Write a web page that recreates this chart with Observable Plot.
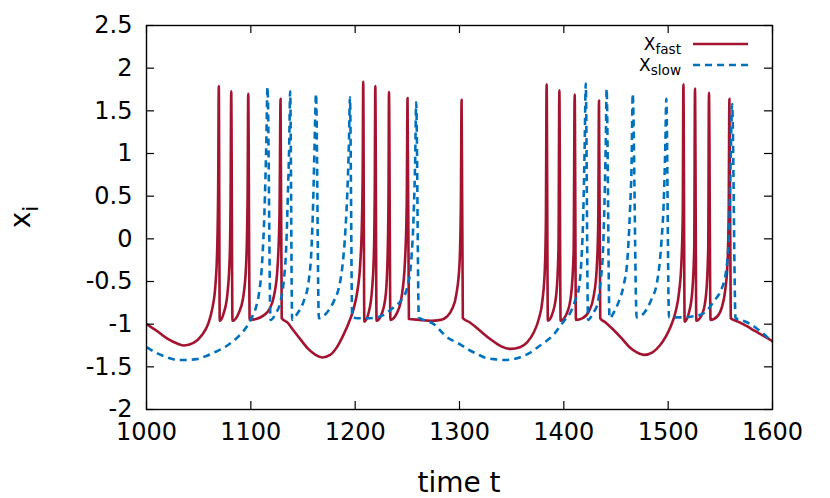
<!DOCTYPE html>
<html><head><meta charset="utf-8">
<script src="https://cdn.jsdelivr.net/npm/d3@7"></script>
<script src="https://cdn.jsdelivr.net/npm/@observablehq/plot@0.6"></script>
<style>body{margin:0;background:#fff}svg{display:block}</style>
</head><body><div id="chart"></div>
<script>
// x_fast series: time and value
const fastT = [1000,1010,1020,1030,1036,1045,1053,1059,1063,1066,1067.8,1068.7,1069.3,1070.2,1074,1077.5,1079.8,1080.6,1081.2,1082.4,1088,1092.5,1095.5,1096.9,1097.5,1098.9,1105,1112,1118,1122.5,1125.5,1127.5,1128.5,1129.6,1135,1140,1147,1155,1162,1168.5,1176,1183,1189,1194,1198.5,1202,1204.8,1206.5,1207.3,1207.7,1208.8,1213,1216,1218,1218.8,1219.3,1220.5,1226,1229.5,1231.3,1232,1232.4,1233.8,1240,1244.5,1247.8,1249.4,1250.2,1251.5,1262,1272,1282,1288,1293,1297,1300,1301.3,1302,1303.2,1310,1320,1330,1340,1349,1358,1365,1371,1376,1379.5,1381.8,1382.8,1383.5,1384.7,1389.5,1393,1394.9,1395.7,1396.9,1403,1407,1409.4,1410.4,1411.6,1418,1424,1428.5,1431.5,1433,1433.7,1434.9,1440,1447,1455,1463,1470,1477,1485,1492,1498,1503,1507,1510.5,1512.8,1514,1514.6,1515.8,1520,1523,1525,1525.7,1527,1533,1536.5,1538.4,1539.1,1540.6,1547,1551.5,1554.5,1556.8,1558,1558.7,1560,1567,1575,1583,1592,1600];
const fastX = [-1.00,-1.08,-1.17,-1.23,-1.25,-1.22,-1.13,-1.00,-0.82,-0.55,-0.1,0.6,1.79,-0.96,-0.87,-0.65,-0.2,0.5,1.73,-0.96,-0.88,-0.70,-0.3,0.5,1.70,-0.95,-0.94,-0.90,-0.82,-0.65,-0.35,0.3,1.64,-0.93,-0.98,-1.06,-1.17,-1.29,-1.36,-1.39,-1.36,-1.26,-1.12,-0.98,-0.82,-0.62,-0.3,0.2,0.9,1.84,-0.97,-0.86,-0.62,-0.15,0.6,1.79,-0.96,-0.86,-0.63,-0.1,0.6,1.72,-0.95,-0.87,-0.68,-0.25,0.4,1.65,-0.94,-0.95,-0.96,-0.95,-0.91,-0.82,-0.65,-0.3,0.4,1.63,-0.93,-0.98,-1.08,-1.18,-1.26,-1.29,-1.27,-1.21,-1.10,-0.94,-0.72,-0.35,0.2,1.81,-0.96,-0.86,-0.62,-0.1,1.74,-0.96,-0.87,-0.65,-0.15,1.69,-0.95,-0.93,-0.85,-0.68,-0.35,0.2,1.62,-0.93,-0.98,-1.06,-1.16,-1.27,-1.33,-1.36,-1.33,-1.25,-1.14,-1.01,-0.86,-0.62,-0.25,0.3,1.81,-0.97,-0.86,-0.63,-0.1,1.76,-0.96,-0.87,-0.63,-0.1,1.71,-0.95,-0.91,-0.80,-0.62,-0.3,0.3,1.64,-0.93,-0.97,-1.02,-1.08,-1.14,-1.20];

// x_slow series: time and value
const slowT = [1000,1010,1020,1030,1038,1048,1058,1067,1075,1083,1090,1096,1101,1105,1107.7,1110.9,1113.1,1114.8,1116,1118.9,1123.7,1128.5,1131.6,1133.9,1135.5,1136.8,1137.7,1139.6,1144.3,1150.7,1155.5,1158.2,1159.8,1161.1,1162.5,1165.2,1173.2,1179.6,1184.4,1187.6,1190.8,1192.4,1194,1195,1197.2,1202,1212,1221,1230,1237.2,1243.5,1249.9,1253.7,1256.2,1257.5,1258.5,1261,1268,1275.4,1282,1288.7,1295,1301,1309,1317,1324,1333,1342.5,1352,1360,1367,1375,1383,1390.5,1396,1401,1406.5,1411,1414.5,1416.8,1418.7,1420,1421,1423.2,1428,1432.1,1435.2,1437.8,1439.3,1440.3,1441,1443.8,1448,1452.8,1457.6,1460.8,1463.4,1465,1466,1469.8,1476.8,1483.2,1489.6,1493.4,1496,1497.3,1498.2,1500.8,1508,1515,1523,1531,1538,1543.9,1550.3,1555.1,1558.3,1559.9,1561.3,1564.6,1572,1579,1587,1594,1600];
const slowX = [-1.27,-1.34,-1.39,-1.42,-1.42,-1.41,-1.37,-1.32,-1.27,-1.20,-1.12,-1.03,-0.92,-0.80,-0.65,-0.26,0.33,1.11,1.78,-0.95,-0.88,-0.73,-0.49,-0.10,0.52,1.11,1.73,-0.95,-0.88,-0.73,-0.49,-0.10,0.45,1.11,1.70,-0.93,-0.86,-0.73,-0.57,-0.34,0.13,0.52,1.11,1.66,-0.92,-0.93,-0.93,-0.92,-0.87,-0.80,-0.73,-0.57,-0.26,0.33,0.91,1.60,-0.92,-0.96,-1.00,-1.08,-1.16,-1.20,-1.24,-1.30,-1.35,-1.39,-1.41,-1.42,-1.41,-1.38,-1.34,-1.27,-1.20,-1.12,-1.03,-0.95,-0.86,-0.72,-0.57,-0.26,0.33,1.11,1.82,-0.95,-0.87,-0.77,-0.50,-0.06,0.6,1.2,1.76,-0.93,-0.86,-0.73,-0.53,-0.26,0.33,0.91,1.70,-0.92,-0.87,-0.73,-0.49,-0.06,0.52,1.11,1.64,-0.92,-0.92,-0.92,-0.91,-0.89,-0.83,-0.73,-0.61,-0.41,0.05,0.91,1.58,-0.93,-0.96,-1.00,-1.07,-1.14,-1.21];

const xTicks = [1000,1100,1200,1300,1400,1500,1600];
const yTicks = [-2,-1.5,-1,-0.5,0,0.5,1,1.5,2,2.5];
const yTickLabels = ["-2","-1.5","-1","-0.5","0","0.5","1","1.5","2","2.5"];
const seriesNames = ["fast","slow"];
const seriesColors = ["#a2142f","#0072bd"];

const fast = fastT.map((t,i)=>({t, v: fastX[i]}));
const slow = slowT.map((t,i)=>({t, v: slowX[i]}));

const W = 830, H = 498, mL = 146, mR = 58, mT = 25, mB = 89;
const fw = W - mL - mR, fh = H - mT - mB, tk = 8;

const svg = Plot.plot({
  width: W, height: H,
  marginLeft: mL, marginRight: mR, marginTop: mT, marginBottom: mB,
  style: {fontFamily: "DejaVu Sans", fontSize: "24px", background: "white", color: "black", overflow: "visible"},
  x: {domain: [1000, 1600]},
  y: {domain: [-2, 2.5]},
  marks: [
    Plot.line(fast, {x: "t", y: "v", curve: "monotone-x", stroke: seriesColors[0], strokeWidth: 2.6, strokeLinecap: "butt"}),
    Plot.line(slow, {x: "t", y: "v", curve: "monotone-x", stroke: seriesColors[1], strokeWidth: 2.6, strokeDasharray: "7,5", strokeLinecap: "butt"}),
    Plot.ruleX(xTicks, {insetTop: fh - tk, stroke: "black", strokeWidth: 1.2}),
    Plot.ruleX(xTicks, {insetBottom: fh - tk, stroke: "black", strokeWidth: 1.2}),
    Plot.ruleY(yTicks, {insetRight: fw - tk, stroke: "black", strokeWidth: 1.2}),
    Plot.ruleY(yTicks, {insetLeft: fw - tk, stroke: "black", strokeWidth: 1.2}),
    Plot.frame({stroke: "black", strokeWidth: 1.4}),
    Plot.axisX(xTicks, {tickSize: 0, tickPadding: 13, label: null, fontSize: 24, tickFormat: d => String(d)}),
    Plot.axisY(yTicks, {tickSize: 0, tickPadding: 14, label: null, fontSize: 24, tickFormat: d => yTickLabels[yTicks.indexOf(d)]})
  ]
});
document.getElementById("chart").appendChild(svg);

const s = d3.select(svg);
// axis titles
s.append("text").attr("x", mL + fw / 2).attr("y", 492).attr("text-anchor", "middle")
  .attr("font-family", "DejaVu Sans").attr("font-size", 28).attr("fill", "black").text("time t");
const yl = s.append("text").attr("transform", `translate(30,${mT + fh / 2}) rotate(-90)`).attr("text-anchor", "middle")
  .attr("font-family", "DejaVu Sans").attr("font-size", 28).attr("fill", "black");
yl.append("tspan").text("x");
yl.append("tspan").attr("font-size", 22).attr("dy", 8).text("i");

// legend
seriesNames.forEach((name, i) => {
  const y = 44 + i * 21;
  const t = s.append("text").attr("x", 681).attr("y", y + 6).attr("text-anchor", "end")
    .attr("font-family", "DejaVu Sans").attr("font-size", 17).attr("fill", "black");
  t.append("tspan").text("X");
  t.append("tspan").attr("font-size", 13.6).attr("dy", 4).text(name);
  s.append("line").attr("x1", 693).attr("x2", 748).attr("y1", y).attr("y2", y)
    .attr("stroke", seriesColors[i]).attr("stroke-width", 2.6)
    .attr("stroke-dasharray", i === 1 ? "7,5" : null);
});
</script>
</body></html>
